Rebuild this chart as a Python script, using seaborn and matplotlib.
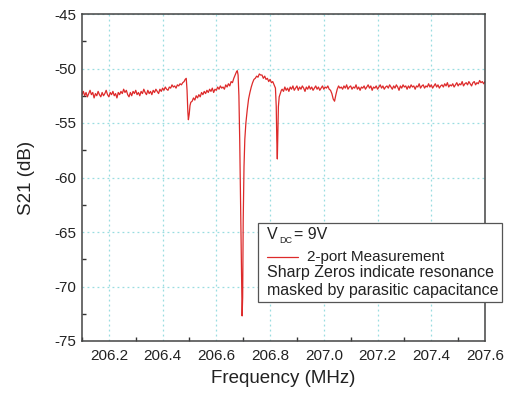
import numpy as np
import pandas as pd
import matplotlib
matplotlib.use("Agg")
import matplotlib.pyplot as plt
from matplotlib.lines import Line2D
from matplotlib.patches import Rectangle
from matplotlib.ticker import MultipleLocator, FormatStrFormatter
import seaborn as sns

# ---- data ----
# uniform sweep segments: start frequency, step, S21 values
seg_a_start, seg_step = 206.100, 0.005
s21_a = [-52.4, -52.1, -52.5, -52.2, -52.6, -52.3, -52.0, -52.4, -52.2, -52.7,
         -52.3, -52.5, -52.1, -52.4, -52.6, -52.2, -52.5, -52.3, -52.0, -52.4,
         -52.6, -52.2, -52.4, -52.1, -52.5, -52.3, -52.7, -52.2, -52.4, -52.1,
         -52.3, -51.9, -52.2, -52.0, -52.4, -52.6, -52.2, -52.5, -52.1, -52.3,
         -52.0, -52.4, -52.2, -52.5, -52.1, -52.3, -51.9, -52.2, -52.4, -52.0,
         -52.3, -52.1, -52.4, -52.0, -52.2, -51.9, -52.1, -52.3, -51.9, -52.1,
         -51.8, -52.0, -51.7, -51.9, -52.0, -51.7, -51.8, -51.5, -51.7, -51.6,
         -51.8, -51.5, -51.6, -51.4, -51.5, -51.3, -51.2]

freq_f1 = [206.484, 206.488, 206.491, 206.494, 206.496, 206.499, 206.502, 206.505]
s21_f1 = [-51.0, -50.9, -52.0, -54.0, -54.7, -54.2, -53.4, -53.1]

seg_b_start = 206.510
s21_b = [-53.0, -52.7, -52.9, -52.5, -52.7, -52.4, -52.6, -52.2, -52.4, -52.1,
         -52.3, -52.0, -52.2, -51.9, -52.1, -51.8, -52.2, -51.9, -52.0, -51.7,
         -51.9, -51.6, -51.8, -51.7, -51.9, -51.5, -51.7, -51.4, -51.6, -51.2,
         -51.3, -50.9, -50.6]

freq_f2 = [206.675, 206.678, 206.681, 206.684, 206.687, 206.690, 206.693, 206.696,
           206.698, 206.700, 206.703, 206.706, 206.710, 206.715, 206.720, 206.725,
           206.730, 206.735, 206.740, 206.745, 206.750, 206.755, 206.760, 206.765,
           206.770, 206.775, 206.780, 206.785, 206.790, 206.795, 206.800, 206.805,
           206.810, 206.815, 206.820, 206.823, 206.825, 206.827, 206.829, 206.831,
           206.834, 206.838, 206.842]
s21_f2 = [-50.3, -50.2, -50.6, -52.5, -56.5, -62.0, -68.0, -72.7,
          -71.0, -64.0, -59.0, -56.5, -55.0, -53.8, -52.8, -52.2,
          -51.7, -51.3, -51.0, -50.9, -50.7, -50.8, -50.5, -50.6,
          -50.6, -50.9, -50.7, -51.0, -50.9, -51.2, -51.0, -51.3,
          -51.2, -51.5, -51.8, -53.5, -56.5, -58.3, -56.0, -53.5,
          -52.6, -52.3, -52.0]

seg_c_start = 206.845
s21_c = [-51.9, -52.1, -51.7, -52.0, -51.8, -52.1, -51.7, -51.9, -51.6, -52.0,
         -51.8, -51.6, -52.0, -51.7, -51.9, -51.6, -51.8, -52.1, -51.7, -51.9,
         -51.6, -51.9, -51.7, -52.0, -51.8, -51.6, -51.9, -51.7, -52.0, -51.8,
         -51.6, -51.9, -51.7, -51.8, -51.6, -51.9, -52.0, -52.3, -52.8, -53.0,
         -52.4, -51.9, -51.6, -51.8, -51.7, -51.9, -51.6, -51.8, -51.5, -51.9,
         -51.7, -51.6, -51.9, -51.7, -51.8, -51.5, -51.9, -51.7, -52.0, -51.7,
         -51.8, -51.6, -51.9, -51.7, -51.5, -51.8, -51.6, -52.0, -51.7, -51.8,
         -51.6, -51.9, -51.7, -51.5, -51.8, -51.6, -51.9, -51.7, -51.6, -51.8,
         -51.5, -51.7, -51.9, -51.6, -51.8, -51.5, -51.7, -52.0, -51.6, -51.8,
         -51.5, -51.7, -51.6, -51.9, -51.6, -51.8, -51.5, -51.7, -51.6, -51.9,
         -51.6, -51.7, -51.4, -51.8, -51.6, -51.5, -51.8, -51.6, -51.7, -51.4,
         -51.7, -51.5, -51.8, -51.6, -51.4, -51.7, -51.5, -51.8, -51.6, -51.5,
         -51.7, -51.4, -51.6, -51.3, -51.7, -51.5, -51.6, -51.4, -51.7, -51.5,
         -51.3, -51.6, -51.4, -51.5, -51.2, -51.6, -51.4, -51.3, -51.5, -51.2,
         -51.4, -51.6, -51.3, -51.2, -51.5, -51.3, -51.4, -51.1, -51.3, -51.2,
         -51.4, -51.2]

x_ticks = [206.2, 206.4, 206.6, 206.8, 207.0, 207.2, 207.4, 207.6]
y_ticks = [-75, -70, -65, -60, -55, -50, -45]
legend_lines = ["2-port Measurement",
                "Sharp Zeros indicate resonance",
                "masked by parasitic capacitance"]


def sweep(start, values):
    return list(np.round(start + seg_step * np.arange(len(values)), 3))


freq = sweep(seg_a_start, s21_a) + freq_f1 + sweep(seg_b_start, s21_b) + freq_f2 + sweep(seg_c_start, s21_c)
s21 = s21_a + s21_f1 + s21_b + s21_f2 + s21_c
df = pd.DataFrame({"Frequency": freq, "S21": s21})

# ---- figure ----
sns.set_style("white")
plt.rcParams['font.family'] = ['Liberation Sans', 'DejaVu Sans']
plt.rcParams['axes.unicode_minus'] = False

W, H = 511, 396
fig = plt.figure(figsize=(W / 100, H / 100), dpi=100)
ax = fig.add_axes([82 / W, 1 - 341 / H, (485 - 82) / W, (341 - 14) / H])

red = "#dd2a2a"
sns.lineplot(data=df, x="Frequency", y="S21", ax=ax, color=red, linewidth=0.9,
             estimator=None, sort=False)

ax.set_xlim(206.1, 207.6)
ax.set_ylim(-75, -45)
ax.set_xticks(x_ticks)
ax.set_yticks(y_ticks)
ax.xaxis.set_major_formatter(FormatStrFormatter("%.1f"))
ax.xaxis.set_minor_locator(MultipleLocator(0.1))
ax.yaxis.set_minor_locator(MultipleLocator(2.5))
ax.tick_params(which="both", direction="in", top=False, right=False,
               colors="#333333", labelcolor="#222222", labelsize=11)
ax.tick_params(which="major", length=5, width=1)
ax.tick_params(which="minor", length=3, width=1, left=True, bottom=True)
ax.tick_params(axis="x", pad=6)
ax.tick_params(axis="y", pad=4)
ax.grid(True, which="major", color="#99dde0", linestyle=(0, (1.5, 2.5)), linewidth=0.9)
for s in ax.spines.values():
    s.set_color("#444444")
    s.set_linewidth(1.1)

ax.set_xlabel("Frequency (MHz)", fontsize=13.5, color="#222222", labelpad=5)
ax.set_ylabel("S21 (dB)", fontsize=13.5, color="#222222", labelpad=14)

# ---- annotation box (figure pixel coordinates) ----
def fx(px):
    return px / W


def fy(py):
    return 1 - py / H


box = Rectangle((fx(258), fy(302)), fx(502) - fx(258), fy(223) - fy(302),
                transform=fig.transFigure, facecolor="white", edgecolor="#555555",
                linewidth=0.9, zorder=5)
fig.patches.append(box)
fig.text(fx(267), fy(239), "V", fontsize=11.5, color="#222222", va="baseline", zorder=6)
fig.text(fx(279), fy(243), "DC", fontsize=6.5, color="#222222", va="baseline", zorder=6)
fig.text(fx(294), fy(239), "= 9V", fontsize=11.5, color="#222222", va="baseline", zorder=6)
fig.lines.append(Line2D([fx(267), fx(298)], [fy(257), fy(257)], transform=fig.transFigure,
                        color=red, linewidth=0.9, zorder=6))
fig.text(fx(307), fy(257), legend_lines[0], fontsize=11, color="#222222",
         va="center", zorder=6)
fig.text(fx(267), fy(273), legend_lines[1], fontsize=11.5, color="#222222",
         va="center", zorder=6)
fig.text(fx(267), fy(291), legend_lines[2], fontsize=11.5, color="#222222",
         va="center", zorder=6)

fig.savefig("out.png", dpi=100)
